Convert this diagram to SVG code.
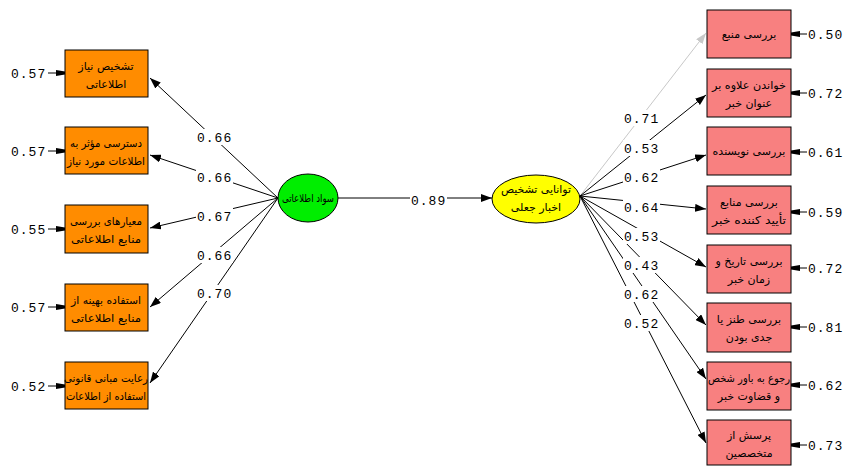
<svg xmlns="http://www.w3.org/2000/svg" width="846" height="466" viewBox="0 0 846 466">
<defs>
<marker id="ah" markerUnits="userSpaceOnUse" markerWidth="12" markerHeight="8" refX="11" refY="4" orient="auto"><path d="M0,0 L11,4 L0,8 z" fill="#000"/></marker>
<marker id="ahg" markerUnits="userSpaceOnUse" markerWidth="12" markerHeight="8" refX="11" refY="4" orient="auto"><path d="M0,0 L11,4 L0,8 z" fill="#c8c8c8"/></marker>
<marker id="eh" markerUnits="userSpaceOnUse" markerWidth="10" markerHeight="8" refX="9" refY="4" orient="auto"><path d="M0,1 L9,2.5 L9,5.5 L0,7 z" fill="#000"/></marker>
</defs>
<style>
.ob{fill:#ff8c00;stroke:#000;stroke-width:1}
.pb{fill:#f88080;stroke:#000;stroke-width:1}
.fa{font-family:"DejaVu Sans",sans-serif;font-size:11px;fill:#000;text-anchor:middle}
.num{font-family:"Liberation Mono",monospace;font-size:13px;fill:#000;letter-spacing:1px}
.ln{stroke:#000;stroke-width:1;fill:none;marker-end:url(#ah)}
.lg{stroke:#c8c8c8;stroke-width:1;fill:none;marker-end:url(#ahg)}
.el{stroke:#000;stroke-width:1;fill:none;marker-end:url(#eh)}
.bg{fill:#fff}
</style>
<rect width="846" height="466" fill="#fff"/>
<g id="connectors">
<line class="ln" x1="278" y1="198" x2="150" y2="78"/>
<line class="ln" x1="278" y1="198" x2="150" y2="155"/>
<line class="ln" x1="278" y1="198" x2="150" y2="228"/>
<line class="ln" x1="278" y1="198" x2="150" y2="307"/>
<line class="ln" x1="278" y1="198" x2="150" y2="383"/>
<line class="ln" x1="338" y1="198" x2="492" y2="198"/>
<line class="lg" x1="580" y1="196" x2="706" y2="33"/>
<line class="ln" x1="580" y1="196" x2="706" y2="95"/>
<line class="ln" x1="580" y1="196" x2="706" y2="155"/>
<line class="ln" x1="580" y1="196" x2="706" y2="209"/>
<line class="ln" x1="580" y1="196" x2="706" y2="267"/>
<line class="ln" x1="580" y1="196" x2="706" y2="325"/>
<line class="ln" x1="580" y1="196" x2="706" y2="379"/>
<line class="ln" x1="580" y1="196" x2="706" y2="443"/>
<line class="el" x1="48" y1="73" x2="65" y2="73"/>
<line class="el" x1="48" y1="151" x2="65" y2="151"/>
<line class="el" x1="48" y1="229" x2="65" y2="229"/>
<line class="el" x1="48" y1="307" x2="65" y2="307"/>
<line class="el" x1="48" y1="386" x2="65" y2="386"/>
<line class="el" x1="807" y1="34" x2="791" y2="34"/>
<line class="el" x1="807" y1="93" x2="791" y2="93"/>
<line class="el" x1="807" y1="152" x2="791" y2="152"/>
<line class="el" x1="807" y1="212" x2="791" y2="212"/>
<line class="el" x1="807" y1="268" x2="791" y2="268"/>
<line class="el" x1="807" y1="327" x2="791" y2="327"/>
<line class="el" x1="807" y1="385" x2="791" y2="385"/>
<line class="el" x1="807" y1="445" x2="791" y2="445"/>
<g id="path-labels">
<rect class="bg" x="196" y="129" width="37" height="16"/><text class="num" x="197" y="142">0.66</text>
<rect class="bg" x="196" y="169" width="37" height="16"/><text class="num" x="197" y="182">0.66</text>
<rect class="bg" x="196" y="208" width="37" height="16"/><text class="num" x="197" y="221">0.67</text>
<rect class="bg" x="196" y="247" width="37" height="16"/><text class="num" x="197" y="260">0.66</text>
<rect class="bg" x="196" y="285" width="37" height="16"/><text class="num" x="197" y="298">0.70</text>
<rect class="bg" x="410" y="192" width="37" height="16"/><text class="num" x="411" y="205">0.89</text>
<rect class="bg" x="623" y="110" width="37" height="16"/><text class="num" x="624" y="123">0.71</text>
<rect class="bg" x="623" y="140" width="37" height="16"/><text class="num" x="624" y="153">0.53</text>
<rect class="bg" x="623" y="169" width="37" height="16"/><text class="num" x="624" y="182">0.62</text>
<rect class="bg" x="623" y="199" width="37" height="16"/><text class="num" x="624" y="212">0.64</text>
<rect class="bg" x="623" y="228" width="37" height="16"/><text class="num" x="624" y="241">0.53</text>
<rect class="bg" x="623" y="257" width="37" height="16"/><text class="num" x="624" y="270">0.43</text>
<rect class="bg" x="623" y="286" width="37" height="16"/><text class="num" x="624" y="299">0.62</text>
<rect class="bg" x="623" y="315" width="37" height="16"/><text class="num" x="624" y="328">0.52</text>
</g>
<g id="error-labels">
<text class="num" x="11" y="78">0.57</text>
<text class="num" x="11" y="156">0.57</text>
<text class="num" x="11" y="234">0.55</text>
<text class="num" x="11" y="312">0.57</text>
<text class="num" x="11" y="391">0.52</text>
<text class="num" x="808" y="39">0.50</text>
<text class="num" x="808" y="98">0.72</text>
<text class="num" x="808" y="157">0.61</text>
<text class="num" x="808" y="217">0.59</text>
<text class="num" x="808" y="273">0.72</text>
<text class="num" x="808" y="332">0.81</text>
<text class="num" x="808" y="390">0.62</text>
<text class="num" x="808" y="450">0.73</text>
</g>
</g>
<g id="L1"><rect class="ob" x="65" y="50" width="83" height="47"/><text class="fa" x="106" y="70">تشخیص نیاز</text><text class="fa" x="106" y="88">اطلاعاتی</text></g>
<g id="L2"><rect class="ob" x="65" y="127" width="83" height="47"/><text class="fa" x="106" y="147" textLength="72" lengthAdjust="spacingAndGlyphs">دسترسی مؤثر به</text><text class="fa" x="106" y="165" textLength="78" lengthAdjust="spacingAndGlyphs">اطلاعات مورد نیاز</text></g>
<g id="L3"><rect class="ob" x="65" y="205" width="83" height="48"/><text class="fa" x="106" y="225" textLength="72" lengthAdjust="spacingAndGlyphs">معیارهای بررسی</text><text class="fa" x="106" y="243" textLength="70" lengthAdjust="spacingAndGlyphs">منابع اطلاعاتی</text></g>
<g id="L4"><rect class="ob" x="65" y="284" width="83" height="47"/><text class="fa" x="106" y="304" textLength="70" lengthAdjust="spacingAndGlyphs">استفاده بهینه از</text><text class="fa" x="106" y="322" textLength="70" lengthAdjust="spacingAndGlyphs">منابع اطلاعاتی</text></g>
<g id="L5"><rect class="ob" x="65" y="362" width="83" height="47"/><text class="fa" x="106" y="382" textLength="84" lengthAdjust="spacingAndGlyphs">رعایت مبانی قانونی</text><text class="fa" x="106" y="400" textLength="80" lengthAdjust="spacingAndGlyphs">استفاده از اطلاعات</text></g>
<g id="C1"><ellipse cx="308" cy="198" rx="30" ry="24" fill="#00ee00" stroke="#000"/><text class="fa" x="308" y="202" textLength="52" lengthAdjust="spacingAndGlyphs">سواد اطلاعاتی</text></g>
<g id="C2"><ellipse cx="536" cy="199" rx="44" ry="24" fill="#ffff00" stroke="#000"/><text class="fa" x="536" y="193" textLength="70" lengthAdjust="spacingAndGlyphs">توانایی تشخیص</text><text class="fa" x="536" y="211">اخبار جعلی</text></g>
<g id="R1"><rect class="pb" x="707" y="10" width="84" height="48"/><text class="fa" x="749" y="38">بررسی منبع</text></g>
<g id="R2"><rect class="pb" x="707" y="69" width="84" height="48"/><text class="fa" x="749" y="89" textLength="74" lengthAdjust="spacingAndGlyphs">خواندن علاوه بر</text><text class="fa" x="749" y="107">عنوان خبر</text></g>
<g id="R3"><rect class="pb" x="707" y="127" width="84" height="48"/><text class="fa" x="749" y="155">بررسی نویسنده</text></g>
<g id="R4"><rect class="pb" x="707" y="186" width="84" height="48"/><text class="fa" x="749" y="206">بررسی منابع</text><text class="fa" x="749" y="224" textLength="74" lengthAdjust="spacingAndGlyphs">تأیید کننده خبر</text></g>
<g id="R5"><rect class="pb" x="707" y="245" width="84" height="48"/><text class="fa" x="749" y="265">بررسی تاریخ و</text><text class="fa" x="749" y="283">زمان خبر</text></g>
<g id="R6"><rect class="pb" x="707" y="303" width="84" height="49"/><text class="fa" x="749" y="323">بررسی طنز یا</text><text class="fa" x="749" y="341">جدی بودن</text></g>
<g id="R7"><rect class="pb" x="707" y="362" width="84" height="48"/><text class="fa" x="749" y="382" textLength="82" lengthAdjust="spacingAndGlyphs">رجوع به باور شخص</text><text class="fa" x="749" y="400">و قضاوت خبر</text></g>
<g id="R8"><rect class="pb" x="707" y="420" width="84" height="45"/><text class="fa" x="749" y="439">پرسش از</text><text class="fa" x="749" y="457">متخصصین</text></g>
</svg>
